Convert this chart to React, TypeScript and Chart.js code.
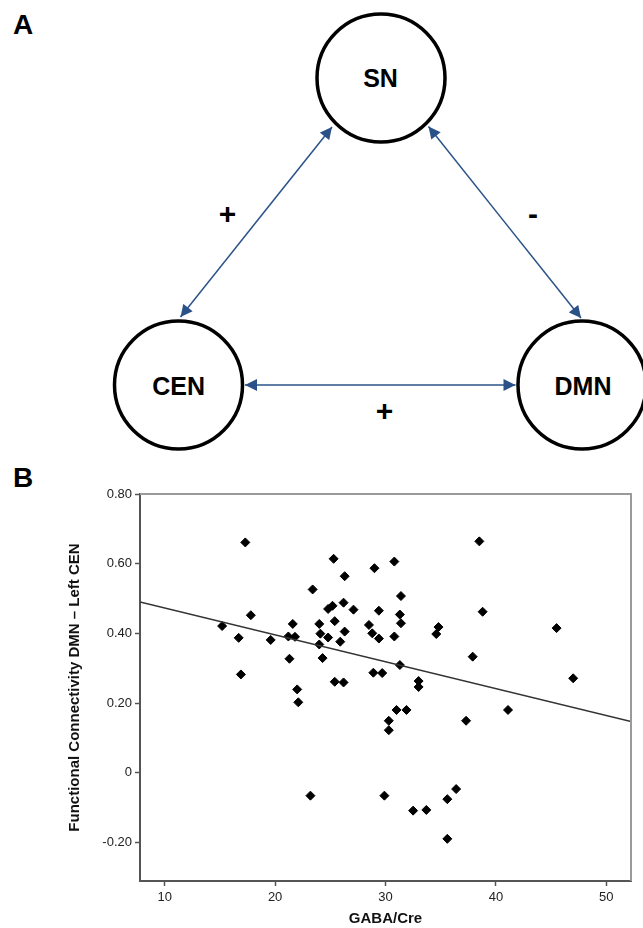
import React, { useEffect, useRef } from "react";
import { Chart, registerables } from "chart.js";

Chart.register(...registerables);

// ---- Data ----
const gabaCre = [
  15.2, 16.7, 16.9, 17.3, 17.8, 19.6, 21.2, 21.8, 21.6, 21.3,
  22.0, 22.1, 23.4, 23.2, 24.0, 24.1, 24.0, 24.3, 24.8, 24.8,
  25.2, 25.3, 25.4, 25.4, 25.9, 26.2, 26.3, 26.3, 26.2, 27.1,
  28.5, 28.8, 29.0, 28.9, 29.4, 29.4, 29.7, 29.9, 30.3, 30.3,
  30.8, 30.8, 31.0, 31.3, 31.4, 31.4, 31.3, 31.9, 32.5, 33.0,
  33.0, 33.7, 34.6, 34.8, 35.6, 35.6, 36.4, 37.3, 37.9, 38.5,
  38.8, 41.1, 45.5, 47.0,
];
const connectivity = [
  0.421, 0.387, 0.282, 0.661, 0.452, 0.381, 0.391, 0.39, 0.427, 0.327,
  0.239, 0.202, 0.526, -0.066, 0.427, 0.399, 0.368, 0.329, 0.388, 0.47,
  0.479, 0.614, 0.435, 0.261, 0.376, 0.488, 0.564, 0.405, 0.259, 0.468,
  0.424, 0.4, 0.587, 0.287, 0.465, 0.385, 0.286, -0.066, 0.149, 0.122,
  0.606, 0.391, 0.18, 0.454, 0.507, 0.429, 0.309, 0.18, -0.109, 0.263,
  0.246, -0.107, 0.398, 0.418, -0.076, -0.19, -0.047, 0.149, 0.333, 0.664,
  0.462, 0.18, 0.415, 0.271,
];
const fitLineX = [7.76, 52.24];
const fitLineY = [0.49, 0.147];

const xTicks = [10, 20, 30, 40, 50];
const xTickLabels = ["10", "20", "30", "40", "50"];
const yTicks = [0.8, 0.6, 0.4, 0.2, 0, -0.2];
const yTickLabels = ["0.80", "0.60", "0.40", "0.20", "0", "-0.20"];
const xRange = [7.76, 52.24];
const yRange = [-0.311, 0.8];

const xTitle = "GABA/Cre";
const yTitle = "Functional Connectivity DMN \u2013 Left CEN";

const FONT = "'Liberation Sans', Arial, Helvetica, sans-serif";

const framePlugin = {
  id: "frame",
  afterDatasetsDraw(chart: any) {
    const { ctx, chartArea } = chart;
    ctx.save();
    ctx.strokeStyle = "#9a9a9a";
    ctx.lineWidth = 2;
    ctx.beginPath();
    ctx.moveTo(chartArea.left, chartArea.top);
    ctx.lineTo(chartArea.right, chartArea.top);
    ctx.lineTo(chartArea.right, chartArea.bottom);
    ctx.stroke();
    ctx.restore();
  },
};

function Diagram() {
  const blue = "#2b5288";
  const node = { fill: "white", stroke: "black", strokeWidth: 3.5 } as const;
  const label = {
    fontFamily: FONT,
    fontWeight: 700,
    fontSize: 25,
    textAnchor: "middle" as const,
    fill: "black",
  };
  const sign = {
    fontFamily: FONT,
    fontWeight: 700,
    fontSize: 30,
    textAnchor: "middle" as const,
    fill: "black",
  };
  return (
    <svg
      width={643}
      height={460}
      style={{ position: "absolute", left: 0, top: 0 }}
    >
      <defs>
        <marker
          id="ah"
          viewBox="0 0 10 10"
          refX="10"
          refY="5"
          markerWidth="13"
          markerHeight="12"
          markerUnits="userSpaceOnUse"
          orient="auto-start-reverse"
        >
          <path d="M0,0 L10,5 L0,10 z" fill={blue} />
        </marker>
      </defs>
      <text x={13} y={34} fontFamily={FONT} fontWeight={700} fontSize={28}>
        A
      </text>
      <circle cx={381} cy={78} r={64} {...node} />
      <circle cx={178.5} cy={385} r={64} {...node} />
      <circle cx={582} cy={385} r={64} {...node} />
      <line
        x1={332}
        y1={127}
        x2={180.5}
        y2={317}
        stroke={blue}
        strokeWidth={1.5}
        markerStart="url(#ah)"
        markerEnd="url(#ah)"
      />
      <line
        x1={428.5}
        y1={126.5}
        x2={581}
        y2={318}
        stroke={blue}
        strokeWidth={1.5}
        markerStart="url(#ah)"
        markerEnd="url(#ah)"
      />
      <line
        x1={245}
        y1={385}
        x2={515.5}
        y2={385}
        stroke={blue}
        strokeWidth={1.5}
        markerStart="url(#ah)"
        markerEnd="url(#ah)"
      />
      <text x={380.5} y={87} {...label}>SN</text>
      <text x={178.7} y={395} {...label}>CEN</text>
      <text x={583} y={395} {...label}>DMN</text>
      <text x={227.5} y={224} {...sign}>+</text>
      <text x={533} y={224} {...sign}>-</text>
      <text x={384.5} y={421} {...sign}>+</text>
    </svg>
  );
}

export default function App() {
  const canvasRef = useRef<HTMLCanvasElement | null>(null);

  useEffect(() => {
    if (!canvasRef.current) return;
    Chart.defaults.font.family = FONT;
    const points = gabaCre.map((x, i) => ({ x, y: connectivity[i] }));
    const fit = fitLineX.map((x, i) => ({ x, y: fitLineY[i] }));
    const chart = new Chart(canvasRef.current, {
      type: "scatter",
      data: {
        datasets: [
          {
            type: "line",
            data: fit,
            borderColor: "#333333",
            borderWidth: 1.5,
            pointRadius: 0,
            fill: false,
          } as any,
          {
            data: points,
            pointStyle: "rectRot",
            pointRadius: 4.5,
            backgroundColor: "#000000",
            borderColor: "#000000",
            borderWidth: 1,
          },
        ],
      },
      plugins: [framePlugin],
      options: {
        responsive: false,
        animation: false,
        layout: { padding: { left: 0, right: 12, top: 34, bottom: 0 } },
        plugins: {
          legend: { display: false },
          tooltip: { enabled: false },
        },
        scales: {
          x: {
            type: "linear",
            min: xRange[0],
            max: xRange[1],
            afterFit: (s: any) => {
              s.height = 47;
            },
            afterBuildTicks: (s: any) => {
              s.ticks = xTicks.map((v) => ({ value: v }));
            },
            ticks: {
              callback: (_v: any, i: number) => xTickLabels[i],
              color: "#222222",
              font: { size: 13 },
              padding: 4,
              maxRotation: 0,
            },
            grid: {
              drawOnChartArea: false,
              drawTicks: true,
              tickLength: 5,
              tickColor: "#555555",
              tickWidth: 1.5,
            },
            border: { color: "#555555", width: 2 },
            title: {
              display: true,
              text: xTitle,
              color: "#111111",
              font: { size: 15, weight: "bold" },
              padding: { top: 0, bottom: 0 },
            },
          },
          y: {
            type: "linear",
            min: yRange[0],
            max: yRange[1],
            afterFit: (s: any) => {
              s.width = 140;
            },
            afterBuildTicks: (s: any) => {
              s.ticks = yTicks.map((v) => ({ value: v }));
            },
            ticks: {
              callback: (_v: any, i: number) => yTickLabels[i],
              color: "#222222",
              font: { size: 13 },
              padding: 3,
            },
            grid: {
              drawOnChartArea: false,
              drawTicks: true,
              tickLength: 5,
              tickColor: "#555555",
              tickWidth: 1.5,
            },
            border: { color: "#555555", width: 2 },
            title: {
              display: true,
              text: yTitle,
              color: "#111111",
              font: { size: 15, weight: "bold" },
              padding: { top: 66, bottom: 0 },
            },
          },
        },
      },
    });
    return () => chart.destroy();
  }, []);

  return (
    <div
      style={{
        position: "absolute",
        left: 0,
        top: 0,
        width: 643,
        height: 928,
        background: "white",
        overflow: "hidden",
      }}
    >
      <Diagram />
      <div
        style={{
          position: "absolute",
          left: 13,
          top: 462,
          fontFamily: FONT,
          fontWeight: 700,
          fontSize: 28,
          lineHeight: "32px",
        }}
      >
        B
      </div>
      <canvas
        ref={canvasRef}
        width={643}
        height={468}
        style={{ position: "absolute", left: 0, top: 460, width: 643, height: 468 }}
      />
    </div>
  );
}
